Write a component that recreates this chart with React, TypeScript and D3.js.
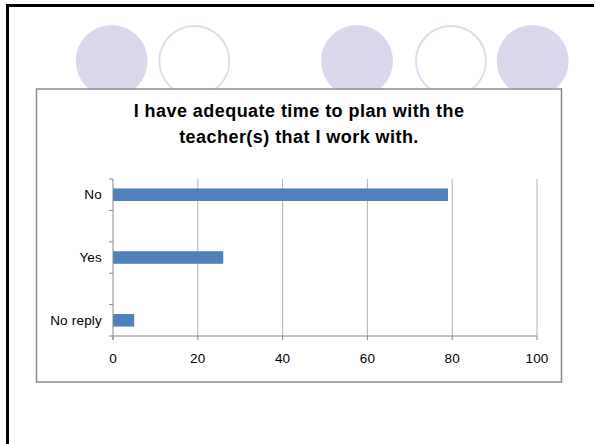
import React from "react";
import * as d3 from "d3";

const titleLines = ["I have adequate time to plan with the", "teacher(s) that I work with."];
const categories = ["No", "Yes", "No reply"];
const values = [79, 26, 5];
const xTicks = [0, 20, 40, 60, 80, 100];

const W = 594;
const H = 444;
const FONT = "'Liberation Sans', Arial, sans-serif";

// decorative slide circles: [cx, filled]
const deco: [number, boolean][] = [
  [111.7, true],
  [194.3, false],
  [357, true],
  [451, false],
  [532.7, true],
];

export default function App() {
  const box = { x: 36.5, y: 89, w: 525, h: 293 };
  const plot = { left: 113, right: 537, top: 179, bottom: 336 };

  const x = d3.scaleLinear().domain([0, 100]).range([plot.left, plot.right]);
  const slots = d3.range(categories.length * 2 - 1);
  const y = d3
    .scaleBand<number>()
    .domain(slots)
    .range([plot.top, plot.bottom])
    .paddingInner(0)
    .paddingOuter(0);
  const slotOf = (i: number) => i * 2;
  const barH = y.bandwidth() * 0.4;
  const yTickPos = slots.map((s) => y(s) as number).concat([plot.bottom]);

  return (
    <svg
      width={W}
      height={H}
      style={{ position: "absolute", left: 0, top: 0, display: "block", background: "#fff" }}
    >
      <rect x={0} y={0} width={W} height={H} fill="#fff" />
      {/* slide frame */}
      <rect x={6} y={4} width={W} height={3} fill="#000" />
      <rect x={6} y={4} width={3} height={H} fill="#000" />
      {/* decorative circles */}
      {deco.map(([cx, filled], i) =>
        filled ? (
          <circle key={i} cx={cx} cy={61} r={36} fill="#D9D8EC" />
        ) : (
          <circle key={i} cx={cx} cy={61} r={35} fill="#fff" stroke="#DCDBEF" strokeWidth={1.8} />
        )
      )}
      {/* chart box */}
      <rect x={box.x} y={box.y} width={box.w} height={box.h} fill="#fff" stroke="#8A8A8A" strokeWidth={1.5} />
      {/* title */}
      {titleLines.map((t, i) => (
        <text
          key={i}
          x={box.x + box.w / 2}
          y={117 + i * 26}
          textAnchor="middle"
          fontFamily={FONT}
          fontWeight="bold"
          fontSize={18}
          letterSpacing={0.45}
          fill="#000"
        >
          {t}
        </text>
      ))}
      {/* gridlines */}
      {xTicks.slice(1).map((t) => (
        <line key={t} x1={x(t)} x2={x(t)} y1={plot.top} y2={plot.bottom} stroke="#B3B3B3" strokeWidth={1} />
      ))}
      {/* bars */}
      {values.map((v, i) => {
        const yc = (y(slotOf(i)) as number) + y.bandwidth() / 2;
        return (
          <rect key={i} x={x(0)} y={yc - barH / 2} width={x(v) - x(0)} height={barH} fill="#4F81BD" />
        );
      })}
      {/* y axis */}
      <line x1={plot.left} x2={plot.left} y1={plot.top} y2={plot.bottom + 4} stroke="#888" strokeWidth={1} />
      {yTickPos.map((p, i) => (
        <line key={i} x1={plot.left - 4} x2={plot.left} y1={p} y2={p} stroke="#888" strokeWidth={1} />
      ))}
      {categories.map((c, i) => {
        const yc = (y(slotOf(i)) as number) + y.bandwidth() / 2;
        return (
          <text
            key={c}
            x={102}
            y={yc}
            dy="0.35em"
            textAnchor="end"
            fontFamily={FONT}
            fontSize={13.5}
            letterSpacing={0.2}
            fill="#000"
          >
            {c}
          </text>
        );
      })}
      {/* x axis */}
      <line x1={plot.left} x2={plot.right} y1={plot.bottom} y2={plot.bottom} stroke="#888" strokeWidth={1} />
      {xTicks.map((t) => (
        <g key={t}>
          <line x1={x(t)} x2={x(t)} y1={plot.bottom} y2={plot.bottom + 4} stroke="#888" strokeWidth={1} />
          <text
            x={x(t)}
            y={363}
            textAnchor="middle"
            fontFamily={FONT}
            fontSize={13.5}
            letterSpacing={0.2}
            fill="#000"
          >
            {t}
          </text>
        </g>
      ))}
    </svg>
  );
}
